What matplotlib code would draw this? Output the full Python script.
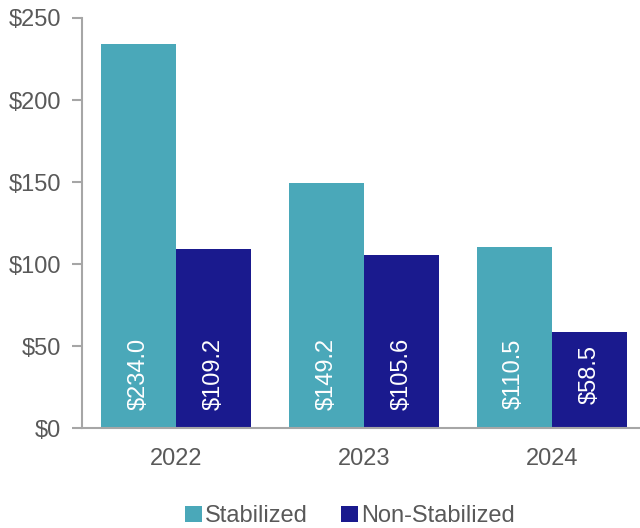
import matplotlib.pyplot as plt
import numpy as np

plt.rcParams['font.family'] = ['Liberation Sans', 'DejaVu Sans']

years = ['2022', '2023', '2024']
stabilized = [234.0, 149.2, 110.5]
non_stabilized = [109.2, 105.6, 58.5]
series_names = ['Stabilized', 'Non-Stabilized']
y_ticks = [0, 50, 100, 150, 200, 250]

teal = '#4AA8B9'
navy = '#1A1A8E'
grey_text = '#595959'
grey_line = '#A6A6A6'

fig = plt.figure(figsize=(6.4, 5.28), dpi=100)
ax = fig.add_axes([0.128, 0.189, 0.881, 0.777])

x = np.arange(len(years))
w = 0.4
b1 = ax.bar(x - w / 2, stabilized, w, color=teal, label=series_names[0])
b2 = ax.bar(x + w / 2, non_stabilized, w, color=navy, label=series_names[1])

# values written upright inside the bars, near the base
for bars, vals in [(b1, stabilized), (b2, non_stabilized)]:
    for rect, v in zip(bars, vals):
        ax.text(rect.get_x() + rect.get_width() / 2, 33, f'${v:.1f}',
                rotation=90, ha='center', va='center', color='white', fontsize=17)

ax.set_xlim(-0.5, 2.5)
ax.set_ylim(0, 250)
ax.set_xticks(x)
ax.set_xticklabels(years)
ax.set_yticks(y_ticks)
ax.set_yticklabels([f'${t}' for t in y_ticks])
ax.tick_params(axis='x', length=0, pad=14, labelsize=17, labelcolor=grey_text)
ax.tick_params(axis='y', length=7, width=1.5, color=grey_line, pad=8,
               labelsize=17, labelcolor=grey_text)

for s in ['top', 'right']:
    ax.spines[s].set_visible(False)
for s in ['left', 'bottom']:
    ax.spines[s].set_color(grey_line)
    ax.spines[s].set_linewidth(1.5)

fig.legend(handles=[b1, b2], loc='center', bbox_to_anchor=(0.547, 0.022), ncol=2,
           frameon=False, fontsize=17, labelcolor=grey_text, handlelength=0.7,
           handleheight=0.7, handletextpad=0.15, columnspacing=1.4, borderpad=0)

fig.savefig('out.png', dpi=100)
